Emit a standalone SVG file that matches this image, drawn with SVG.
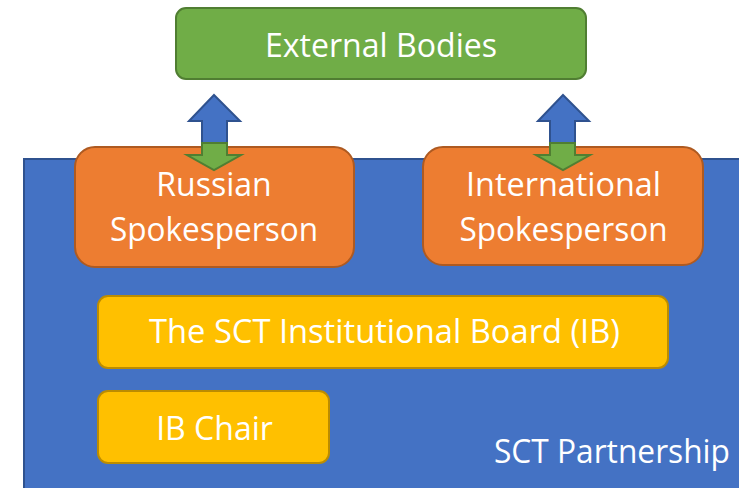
<svg xmlns="http://www.w3.org/2000/svg" width="739" height="488" viewBox="0 0 739 488">
<style>
text{font-family:"Open Sans","Noto Sans","Liberation Sans",sans-serif;fill:#fff;font-size:32px;text-anchor:middle}
.org{fill:#ED7D31;stroke:#AE5A21;stroke-width:2}
.yel{fill:#FFC000;stroke:#BC8C00;stroke-width:2}
.up{fill:#4472C4;stroke:#2F528F;stroke-width:2;stroke-linejoin:miter}
.dn{fill:#70AD47;stroke:#507E32;stroke-width:2;stroke-linejoin:miter}
</style>
<rect width="739" height="488" fill="#fff"/>
<g id="partnership">
<rect x="24" y="159" width="730" height="340" fill="#4472C4" stroke="#2F528F" stroke-width="2"/>
<text x="612" y="463" textLength="236" lengthAdjust="spacingAndGlyphs">SCT Partnership</text>
</g>
<g id="external">
<rect x="176" y="8" width="410" height="71" rx="10" fill="#70AD47" stroke="#507E32" stroke-width="2"/>
<text x="381" y="57" textLength="232" lengthAdjust="spacingAndGlyphs">External Bodies</text>
</g>
<g id="russian">
<rect class="org" x="75" y="147" width="279" height="120" rx="20"/>
<text x="214" y="196">Russian</text>
<text x="214" y="241" textLength="208" lengthAdjust="spacingAndGlyphs">Spokesperson</text>
</g>
<g id="international">
<rect class="org" x="423" y="147" width="280" height="118" rx="20"/>
<text x="563.5" y="196" textLength="195" lengthAdjust="spacingAndGlyphs">International</text>
<text x="563.5" y="241" textLength="208" lengthAdjust="spacingAndGlyphs">Spokesperson</text>
</g>
<g id="ib">
<rect class="yel" x="98" y="296" width="570" height="72" rx="10"/>
<text x="384.5" y="343" textLength="471" lengthAdjust="spacingAndGlyphs">The SCT Institutional Board (IB)</text>
</g>
<g id="chair">
<rect class="yel" x="98" y="391" width="231" height="72" rx="10"/>
<text x="214.5" y="440">IB Chair</text>
</g>
<g id="connectors">
<polygon class="up" points="214,95 240,121 227,121 227,143 202,143 202,121 189,121"/>
<polygon class="dn" points="202,143 227,143 227,155 241,155 214,170 187,155 202,155"/>
<polygon class="up" points="563,95 589,121 575,121 575,143 550,143 550,121 538,121"/>
<polygon class="dn" points="550,143 575,143 575,155 590,155 563,170 536,155 550,155"/>
</g>
</svg>
